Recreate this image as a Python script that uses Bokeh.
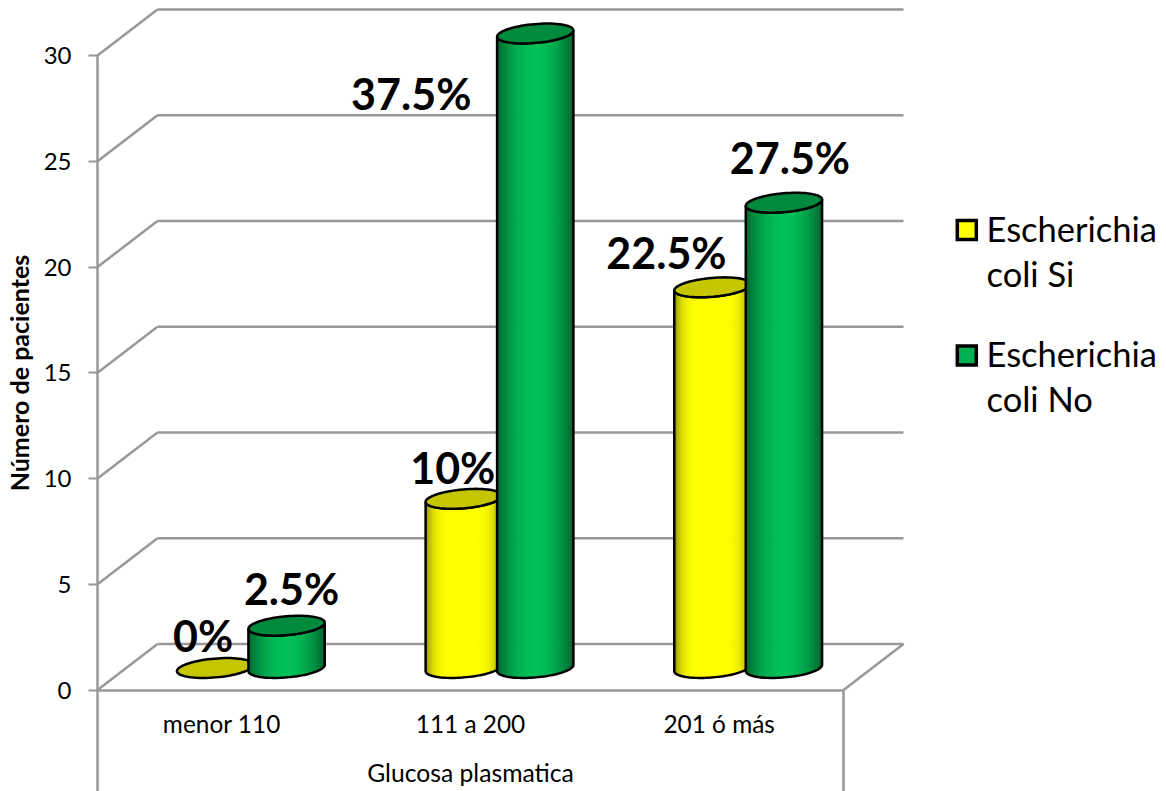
from bokeh.core.properties import value
from bokeh.embed import file_html
from bokeh.models import FixedTicker, LinearAxis, Range1d
from bokeh.plotting import figure
from bokeh.resources import INLINE
import math

# Chart data
categories = ["menor 110", "111 a 200", "201 ó más"]
series_names = ["Escherichia coli Si", "Escherichia coli No"]
counts_si = [0, 8, 18]
counts_no = [2, 30, 22]
percent_si = [0, 10, 22.5]
percent_no = [2.5, 37.5, 27.5]
y_ticks = [0, 5, 10, 15, 20, 25, 30]

# Screen geometry of the pseudo-3D box
W, H = 1166, 791
X0, Y0 = 97, 689.5        # front-left corner of the floor
PX_PER_CAT = 248.67
PX_PER_UNIT = 21.15
DEPTH_X, DEPTH_Y = 60, 46
GRID = "#989898"
FONT = "Lato"

def ux(px):
    return (px - X0) / PX_PER_CAT

def uy(py):
    return (Y0 - py) / PX_PER_UNIT

p = figure(width=W, height=H, output_backend="svg", toolbar_location=None,
           x_range=Range1d(ux(0), ux(W)), y_range=Range1d(uy(H), uy(0)),
           min_border_left=0, min_border_right=0, min_border_top=0, min_border_bottom=0,
           x_axis_location=None, y_axis_location=None,
           outline_line_color=None, background_fill_color="white")
p.grid.visible = False

# Value axis pinned to the front-left edge
yaxis = LinearAxis(ticker=FixedTicker(ticks=y_ticks), bounds=(0, 30), fixed_location=0,
                   axis_label="Número de pacientes",
                   axis_label_text_font=FONT, axis_label_text_font_style="bold",
                   axis_label_text_font_size="25px", axis_label_text_color="black",
                   axis_label_standoff=7,
                   major_label_text_font=FONT, major_label_text_font_size="24px",
                   major_label_text_color="black", major_label_standoff=17,
                   axis_line_color=GRID, axis_line_width=2.5,
                   major_tick_line_color=GRID, major_tick_line_width=2,
                   major_tick_in=0, major_tick_out=9, minor_tick_line_color=None)
p.add_layout(yaxis, "left")

# Category axis pinned to the front edge of the floor
xaxis = LinearAxis(ticker=FixedTicker(ticks=[0.5, 1.5, 2.5]), bounds=(0, 3), fixed_location=0,
                   major_label_overrides={i + 0.5: c for i, c in enumerate(categories)},
                   axis_label="Glucosa plasmatica",
                   axis_label_text_font=FONT, axis_label_text_font_style="normal",
                   axis_label_text_font_size="24.7px", axis_label_text_color="black",
                   axis_label_standoff=16,
                   major_label_text_font=FONT, major_label_text_font_size="24.4px",
                   major_label_text_color="black", major_label_standoff=13,
                   axis_line_color=GRID, axis_line_width=2.5,
                   major_tick_line_color=None, minor_tick_line_color=None)
p.add_layout(xaxis, "below")

# Walls and floor: diagonals from the front edge, then the back-wall gridlines
dx, dy = DEPTH_X / PX_PER_CAT, DEPTH_Y / PX_PER_UNIT
p.segment(x0=[0] * len(y_ticks), y0=y_ticks, x1=[dx] * len(y_ticks), y1=[t + dy for t in y_ticks],
          line_color=GRID, line_width=2.5)
p.segment(x0=[dx] * len(y_ticks), y0=[t + dy for t in y_ticks],
          x1=[3 + dx] * len(y_ticks), y1=[t + dy for t in y_ticks],
          line_color=GRID, line_width=2.5)
p.segment(x0=[3], y0=[0], x1=[3 + dx], y1=[dy], line_color=GRID, line_width=2.5)
# Dividers hanging under the front edge
p.segment(x0=[0, 3], y0=[0, 0], x1=[0, 3], y1=[uy(H), uy(H)], line_color=GRID, line_width=2.5)

# Cylinders
RX, RY, TILT = 38.3, 9.4, math.radians(5)
BASE_LIFT = 22            # px from the front edge to the centre of a base ellipse
OFFSET_CENTER, OFFSET_PAIR = 29, 35.75
SLICES = 48

def ellipse_point(cx, cy, t):
    ex, ey = RX * math.cos(t), RY * math.sin(t)
    return (cx + ex * math.cos(TILT) - ey * math.sin(TILT),
            cy - (ex * math.sin(TILT) + ey * math.cos(TILT)))

def ellipse(cx, cy, n=72):
    pts = [ellipse_point(cx, cy, 2 * math.pi * k / n) for k in range(n)]
    return [ux(a) for a, _ in pts], [uy(b) for _, b in pts]

def front_edge(cx, cy, n=SLICES):
    # Lower half of the tilted ellipse, sampled from its left tip to its right tip
    return [ellipse_point(cx, cy, -(math.pi - math.pi * k / n)) for k in range(n + 1)]

def mix(c0, c1, f):
    return "#%02x%02x%02x" % tuple(round(a + (b - a) * f) for a, b in zip(c0, c1))

def draw_cylinder(cx, count, bright, dark, top_fill, falloff):
    base_y = Y0 - BASE_LIFT
    top_y = base_y - count * PX_PER_UNIT
    if count > 0:
        low = front_edge(cx, base_y)
        up = front_edge(cx, top_y)
        xs, ys, colors = [], [], []
        for k in range(SLICES):
            xs.append([ux(low[k][0]), ux(low[k + 1][0]), ux(up[k + 1][0]), ux(up[k][0])])
            ys.append([uy(low[k][1]), uy(low[k + 1][1]), uy(up[k + 1][1]), uy(up[k][1])])
            mid = (low[k][0] + low[k + 1][0]) / 2
            f = min(1, abs(mid - cx) / RX)
            colors.append(mix(bright, dark, f ** falloff))
        # A hairline in the slice colour hides the seams between neighbouring slices
        p.patches(xs, ys, fill_color=colors, line_color=colors, line_width=1)
        outline_x = [ux(a) for a, _ in low] + [ux(a) for a, _ in reversed(up)]
        outline_y = [uy(b) for _, b in low] + [uy(b) for _, b in reversed(up)]
        p.patch(outline_x + outline_x[:1], outline_y + outline_y[:1],
                fill_color=None, line_color="black", line_width=2.5)
    ex, ey = ellipse(cx, top_y)
    p.patch(ex, ey, fill_color=top_fill, line_color="black", line_width=2.5)

for i in range(len(categories)):
    center = X0 + PX_PER_CAT * (i + 0.5) + OFFSET_CENTER
    draw_cylinder(center - OFFSET_PAIR, counts_si[i], (255, 255, 0), (130, 130, 0), "#c6c600", 5)
    draw_cylinder(center + OFFSET_PAIR, counts_no[i], (0, 192, 88), (0, 100, 46), "#008a3e", 2)

# Percentage labels, placed by hand beside each cylinder
label_offsets_si = [(-12, -33), (-11, -31), (-46, -35)]
label_offsets_no = [(5, -37), (-124, 60), (6, -45)]
lx, ly, lt = [], [], []
for i in range(len(categories)):
    center = X0 + PX_PER_CAT * (i + 0.5) + OFFSET_CENTER
    for sign, cnt, pct, off in ((-1, counts_si[i], percent_si[i], label_offsets_si[i]),
                                (1, counts_no[i], percent_no[i], label_offsets_no[i])):
        top_y = Y0 - BASE_LIFT - cnt * PX_PER_UNIT
        lx.append(ux(center + sign * OFFSET_PAIR + off[0]))
        ly.append(uy(top_y + off[1]))
        lt.append(f"{pct:g}%")
p.text(lx, ly, lt, text_font=value(FONT), text_font_style="bold", text_font_size="43px",
       text_color="black", text_align="center", text_baseline="middle")

# Legend
legend_fill = ["#ffff00", "#00b050"]
legend_sq_y = [229.5, 355]
p.scatter([ux(966.3)] * 2, [uy(v) for v in legend_sq_y], marker="square", size=19,
          fill_color=legend_fill, line_color="black", line_width=3.5, line_join="miter")
for name, sq in zip(series_names, legend_sq_y):
    words = name.split(" ")
    p.text([ux(986)] * 2, [uy(sq - 2), uy(sq + 43)], [words[0], " ".join(words[1:])],
           text_font=value(FONT), text_font_size="34.5px", text_color="black",
           text_align="left", text_baseline="middle")

open("out.html", "w").write(file_html(p, INLINE))
